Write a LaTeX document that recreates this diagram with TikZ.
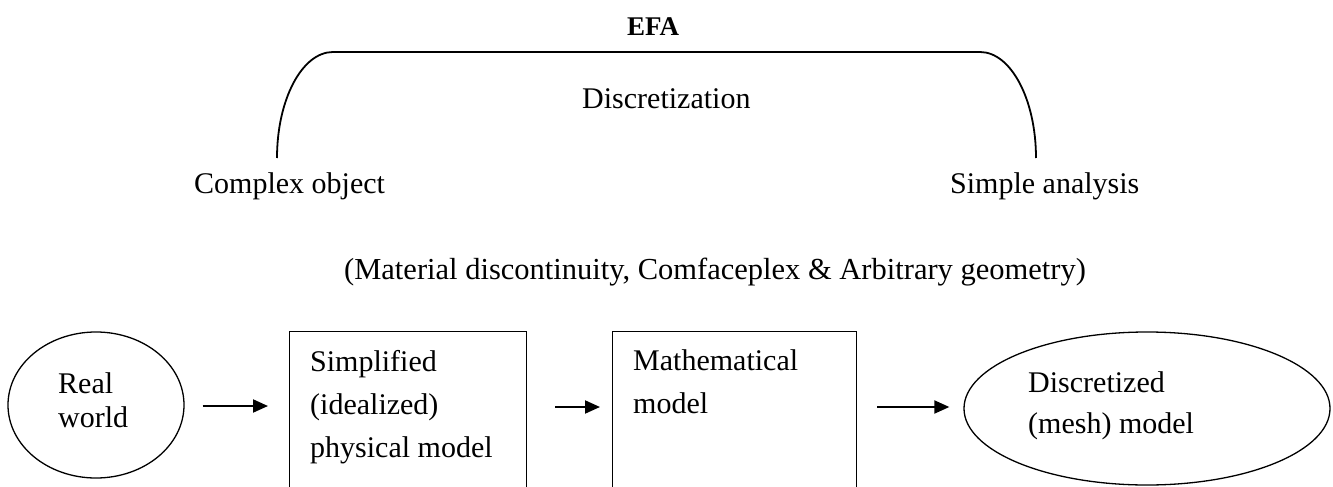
\documentclass[tikz,border=0pt]{standalone}
\usepackage{fontspec}
\setmainfont{Liberation Serif}
\usetikzlibrary{shapes.geometric,arrows.meta}
\tikzset{
  txt/.style={inner sep=0pt, font=\fontsize{30}{43}\selectfont, align=left},
  shapeline/.style={draw, line width=1.3pt},
  boxnode/.style={shapeline, rectangle, inner sep=0pt, anchor=north west},
  ovalnode/.style={shapeline, ellipse, inner sep=0pt},
  arr/.style={line width=2pt, -{Triangle[length=15pt,width=13pt]}},
  bracket/.style={line width=1.8pt}
}
\begin{document}
\begin{tikzpicture}[x=1pt,y=1pt]
\useasboundingbox (0,0) rectangle (1333,-487);
\clip (0,0) rectangle (1333,-487);
% top part
\node[txt, font=\fontsize{27}{32}\selectfont\bfseries, anchor=base] (efa) at (653,-36) {EFA};
\node[txt, anchor=base west] (disc) at (582,-108) {Discretization};
\node[txt, anchor=base west] (complex) at (194,-193) {Complex object};
\node[txt, anchor=base west] (simple) at (950,-193) {Simple analysis};
\coordinate (bl) at (277,-158);
\coordinate (br) at (1036,-158);
\draw[bracket] (bl) arc[start angle=180, end angle=90, x radius=56pt, y radius=106pt]
  -- (980,-52) arc[start angle=90, end angle=0, x radius=56pt, y radius=106pt];
\node[txt, font=\fontsize{30.5}{43}\selectfont, anchor=base] (mat) at (715,-279) {(Material discontinuity, Comfaceplex \& Arbitrary geometry)};
% bottom flow
\node[ovalnode, minimum width=176pt, minimum height=146pt] (real) at (96,-405) {};
\node[txt, font=\fontsize{30}{34}\selectfont, anchor=base west] (realtxt) at (58,-427) {Real\\world};
\node[boxnode, minimum width=237pt, minimum height=300pt] (phys) at (289,-331) {};
\node[txt, anchor=base west] (phystxt) at (310,-457) {Simplified\\(idealized)\\physical model};
\node[boxnode, minimum width=244pt, minimum height=300pt] (math) at (612,-331) {};
\node[txt, anchor=base west] (mathtxt) at (633,-413) {Mathematical\\model};
\node[ovalnode, minimum width=366pt, minimum height=153pt] (mesh) at (1147,-408.5) {};
\node[txt, font=\fontsize{30}{41}\selectfont, anchor=base west] (meshtxt) at (1028,-433) {Discretized\\(mesh) model};
\coordinate (a1) at ([yshift=-1pt]real.east);
\coordinate (a2) at ([yshift=-2pt]real.east);
\draw[arr] ([xshift=18pt]a1) -- ([xshift=-21pt]phys.west |- a1);
\draw[arr] ([xshift=28pt]phys.east |- a2) -- ([xshift=-12pt]math.west |- a2);
\draw[arr] ([xshift=20pt]math.east |- a2) -- ([xshift=-14pt]mesh.west |- a2);
\end{tikzpicture}
\end{document}
